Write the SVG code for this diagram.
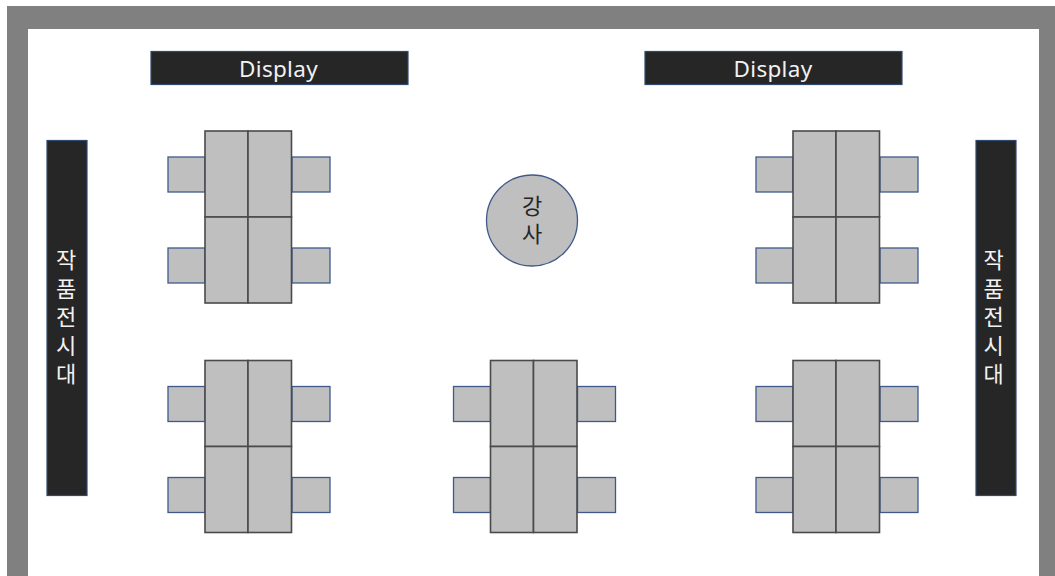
<svg xmlns="http://www.w3.org/2000/svg" width="1055" height="576" viewBox="0 0 1055 576">
<defs>
<style>
.wall{fill:#808080}
.bar{fill:#262626;stroke:#2f4a70;stroke-width:1.2}
.bt{fill:#f2f2f2;font:22.5px "Noto Sans",sans-serif;text-anchor:middle;letter-spacing:.3px}
.vt{fill:#f2f2f2;font:22px "Noto Sans CJK KR",sans-serif;text-anchor:middle}
.seat{fill:#bfbfbf;stroke:#3f5a8a;stroke-width:1.3}
.desk{fill:#bfbfbf;stroke:#4a4a4a;stroke-width:1.6}
.t{fill:#262626;font:22px "Noto Sans CJK KR",sans-serif;text-anchor:middle}
</style>
<g id="pod">
<rect class="seat" x="168" y="157" width="37" height="35"/>
<rect class="seat" x="292" y="157" width="38" height="35"/>
<rect class="seat" x="168" y="248" width="37" height="35"/>
<rect class="seat" x="292" y="248" width="38" height="35"/>
<rect class="desk" x="205" y="131" width="43" height="86"/>
<rect class="desk" x="248" y="131" width="43.500" height="86"/>
<rect class="desk" x="205" y="217" width="43" height="86"/>
<rect class="desk" x="248" y="217" width="43.500" height="86"/>
</g>
</defs>
<rect width="1055" height="576" fill="#fff"/>
<path id="walls" class="wall" d="M7 576V6H1055V576H1039V29H28V576Z"/>
<g id="display-left"><rect class="bar" x="151" y="51.500" width="257" height="33"/><text class="bt" x="278.500" y="77">Display</text></g>
<g id="display-right"><rect class="bar" x="645" y="51.500" width="257" height="33"/><text class="bt" x="773" y="77">Display</text></g>
<g id="gallery-left"><rect class="bar" x="47" y="140.500" width="40" height="355"/>
<text class="vt" y="268"><tspan x="66">작</tspan><tspan x="66" dy="28.500">품</tspan><tspan x="66" dy="28.500">전</tspan><tspan x="66" dy="28.500">시</tspan><tspan x="66" dy="28.500">대</tspan></text></g>
<g id="gallery-right"><rect class="bar" x="976" y="140.500" width="40" height="355"/>
<text class="vt" y="268"><tspan x="993.500">작</tspan><tspan x="993.500" dy="28.500">품</tspan><tspan x="993.500" dy="28.500">전</tspan><tspan x="993.500" dy="28.500">시</tspan><tspan x="993.500" dy="28.500">대</tspan></text></g>
<g id="instructor"><circle cx="532" cy="220.500" r="45.500" fill="#bfbfbf" stroke="#3f5a8a" stroke-width="1.3"/><text class="t" y="213.500"><tspan x="532">강</tspan><tspan x="532" dy="28">사</tspan></text></g>
<use id="pod-top-left" href="#pod"/>
<use id="pod-top-right" href="#pod" x="588"/>
<use id="pod-bottom-left" href="#pod" y="229.500"/>
<use id="pod-bottom-center" href="#pod" x="285.500" y="229.500"/>
<use id="pod-bottom-right" href="#pod" x="588" y="229.500"/>
<g id="connectors"/>
</svg>
